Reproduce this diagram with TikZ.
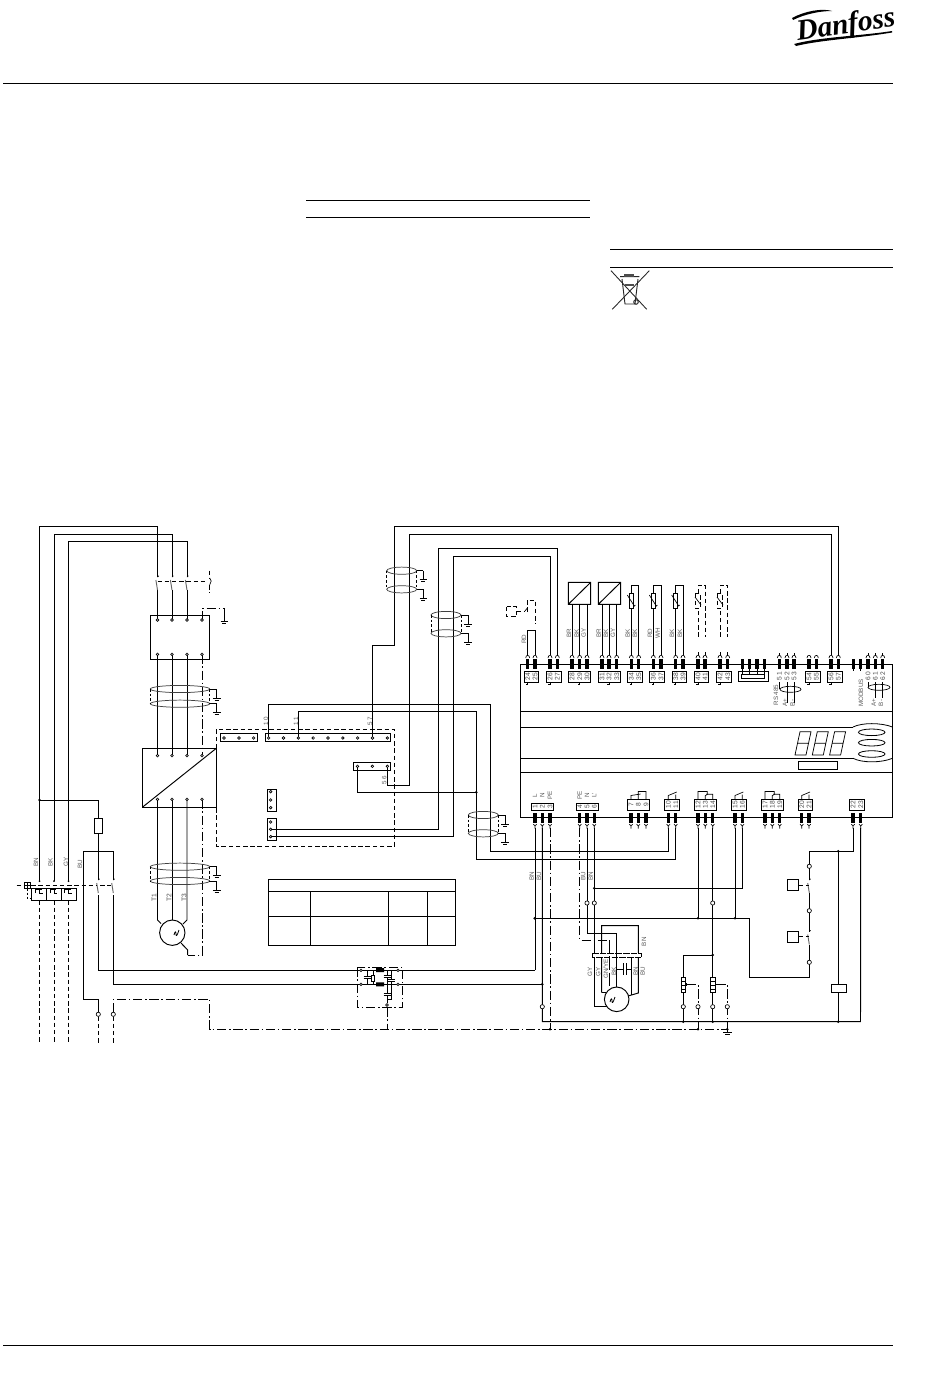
\documentclass[tikz,border=0pt]{standalone}
\usepackage{fontspec}
\setmainfont{Liberation Sans}
\newfontfamily\logofont{Liberation Serif}
\tikzset{
 x=.75pt,y=-.75pt,
 wire/.style={line width=.72pt,black,line join=miter},
 thinw/.style={line width=.5pt,black},
 dsh/.style={line width=.7pt,black,dash pattern=on 3.4pt off 2pt},
 dd/.style={line width=.7pt,black,dash pattern=on 7pt off 2pt on 1.2pt off 2pt},
 lab/.style={font=\fontsize{4.7}{5}\selectfont,text=black!65,inner sep=0pt,rotate=90},
 num/.style={font=\fontsize{5}{5}\selectfont,text=black!70,inner sep=0pt,rotate=90},
 blade/.style={line width=.7pt,black!60},
}
% upper controller terminal
\newcommand\tUp[2]{%
 \fill ({#1-1.7},658.8) rectangle ({#1+1.7},668.8);
 \draw[thinw] ({#1-2},658) .. controls ({#1-2},654.5) and ({#1+2},654.5) .. ({#1+2},658);
 \node[num] (un#2) at (#1,676.6) {#2};
 \coordinate (up#2) at (#1,655.4);
}
\newcommand\tBlob[1]{\fill ({#1-1.7},658.8) rectangle ({#1+1.7},668.8);}
\newcommand\tLo[3]{%
 \fill ({#1-1.7},813.3) rectangle ({#1+1.7},823.3);
 \draw[thinw] ({#1-1.7},824.2) -- (#1,826) -- ({#1+1.7},824.2) (#1,826) -- (#1,828.5);
 \node[num] (ln#2) at (#1,#3) {#2};
 \coordinate (lo#2) at (#1,828);
}
\newcommand\dotat[2]{\fill (#1,#2) circle (1.4);}
\newcommand\opn[2]{\draw[thinw,fill=white] (#1,#2) circle (2.1);}
\newcommand\term[2]{\draw[line width=.5pt,fill=white] (#1,#2) circle (1.3);}
\newcommand\gnd[2]{%
 \draw[wire] (#1,#2) -- (#1,{#2+9});
 \draw[wire] ({#1-3.8},{#2+9}) -- ({#1+3.8},{#2+9});
 \draw[thinw] ({#1-2},{#2+11}) -- ({#1+2},{#2+11});
}
% cable bundle: centre x, half width, y1, y2, ground x
\newcommand\bundle[5]{%
 \draw[line width=.55pt,black!75] (#1,#3) ellipse (#2 and 3.6) (#1,#4) ellipse (#2 and 3.6);
 \draw[line width=.55pt,dash pattern=on 2pt off 1.5pt] ({#1-#2},#3) -- ({#1-#2},#4) ({#1+#2},#3) -- ({#1+#2},#4);
 \draw[line width=.55pt] ({#1+#2},#3) -- (#5,#3);
 \draw[line width=.55pt] ({#1+#2},#4) -- (#5,#4);
 \gnd{#5}{#3}\gnd{#5}{#4}
}
% switch contact
\newcommand\sw[2]{%
 \draw[thinw] (#1,#2) -- ({#1+1.4},{#2-1.2});
 \draw[blade] ({#1-1.6},{#2+3}) -- (#1,{#2+13});
}
\newcommand\tick[1]{\draw[thinw] (#1,682.3) -- (#1,684.8) -- ({#1-1.6},684.8);}
\newcommand\thermo[2]{% x left wire, y-extra
 \draw[wire,fill=white] ({#1-2.2},593.3) rectangle ({#1+2.2},608.7);
 \draw[thinw] ({#1-4},595) -- ({#1+3},606) -- ({#1+4},605);
}
\newcommand\heater[1]{%
 \draw[line width=.6pt,fill=white] ({#1-2.3},977.3) rectangle ({#1+2.3},992.7);
 \draw[thinw] ({#1-2.3},981) -- ({#1+2.3},981) ({#1-2.3},985) -- ({#1+2.3},985) ({#1-2.3},989) -- ({#1+2.3},989);
 \fill ({#1+2.3},982.5) rectangle ({#1+3.5},986);
}
\newcommand\motorzig[2]{\draw[line width=.6pt] ({#1-2},{#2+1}) .. controls ({#1-1},{#2-3}) and (#1,{#2-3}) .. (#1,{#2}) .. controls (#1,{#2+3}) and ({#1+1},{#2+2}) .. ({#1+3},{#2-4});}
\newcommand\digitseg[1]{%
 \draw[line width=.55pt] ({#1},755) -- ({#1+11},755) -- ({#1+16},731.7) -- ({#1+5},731.7) -- cycle ({#1+2.5},743.3) -- ({#1+13.5},743.3);
}
\begin{document}
\begin{tikzpicture}
\useasboundingbox (0,0) rectangle (950,1378);

% page rules
\draw[line width=.6pt] (3,83) -- (893,83);
\draw[line width=.6pt] (3,1345) -- (893,1345);
\draw[line width=.7pt] (306,200) -- (590,200) (306,217) -- (590,217);
\draw[line width=.7pt] (610,249) -- (893,249) (610,267) -- (893,267);

% logo
\node[inner sep=0pt,rotate=8] (logo) at (846,26) {\logofont\fontsize{22}{22}\selectfont\bfseries\itshape Danfoss};
\fill (792,18) .. controls (805,11) and (822,8) .. (832,11) .. controls (820,11) and (805,14) .. (793,20) -- cycle;
\fill (794,44) .. controls (820,37) and (860,36) .. (892,31) -- (892,32.5) .. controls (860,38) and (820,40) .. (796,46) -- cycle;

% bin icon
\draw[line width=.65pt,black!85] (611,270.7) -- (646.7,309.3) (649.3,270.7) -- (612.3,309.3);
\draw[line width=.7pt,black!85] (620,276.7) -- (639.3,276.7) (622,279) -- (625,304) -- (635,304) -- (638,279);
\fill[black!70] (624,274) rectangle (634,276.5);
\fill[black!70] (625,284) rectangle (634,286);
\draw[line width=.7pt,black!85] (636,302) circle (2.3);

% main supply wires
\draw[wire] (39.5,881) -- (39.5,526.3) -- (157.5,526.3) -- (157.5,577);
\draw[wire] (54,881) -- (54,534) -- (172,534) -- (172,577);
\draw[wire] (68.5,881) -- (68.5,541.7) -- (187,541.7) -- (187,577);
\draw[wire] (157.5,590) -- (157.5,620) (172,590) -- (172,620) (187,590) -- (187,620);
\foreach \x in {157.5,172,187}{\sw{\x}{577}}
\draw[dsh] (157.5,581) -- (206,581);
\draw[dsh] (209.7,570.7) -- (209.7,578) (209.7,585) -- (209.7,592.7);
\draw[thinw] (209.7,578) -- (211.2,581) -- (209.7,585);

% EMC box
\draw[wire] (150.3,615.3) rectangle (209.7,659.3);
\draw[dd] (202,620) -- (202,608.3) -- (224.3,608.3) -- (224.3,612);
\gnd{224.3}{612}
\draw[wire] (157.5,654.3) -- (157.5,755.7) (172,654.3) -- (172,755.7) (187,654.3) -- (187,755.7);
\draw[dd] (202,654.3) -- (202,755.7);
\bundle{180}{29.7}{689}{703.7}{216.7}

% converter
\draw[wire] (142.3,748.3) rectangle (216.3,807.3);
\draw[wire] (142.3,807.3) -- (216.3,748.3);
\foreach \x in {157.5,172,187,202}{\term{\x}{620}\term{\x}{654.3}\term{\x}{755.7}}
\draw[wire] (157.5,799.3) -- (157.5,920) -- (161,923.5);
\draw[wire] (172,799.3) -- (172,920);
\draw[wire] (187,799.3) -- (187,920) -- (183,924);
\draw[dd] (202,799.3) -- (202,955) -- (187.7,955);
\draw[wire] (187.7,955) -- (187.7,950) -- (181,943);
\foreach \x in {157.5,172,187,202}{\term{\x}{799.3}}
\bundle{180}{29.7}{866.7}{881}{216.7}
\draw[wire] (172.3,932.7) circle (12.7);
\motorzig{176}{934}
\node[num] (t1) at (154,898) {T1};
\node[num] (t2) at (169,898) {T2};
\node[num] (t3) at (184,898) {T3};

% breaker branch and fuse
\dotat{39.5}{800}
\draw[wire] (39.5,800) -- (98.3,800) -- (98.3,818.3);
\draw[wire,fill=white] (94.7,818.3) rectangle (102.7,833.3);
\draw[wire] (98.3,833.3) -- (98.3,880) (98.3,895) -- (98.3,970.3) -- (535,970.3);
\draw[wire] (83.3,999.3) -- (83.3,851) -- (113.3,851) -- (113.3,880);
\draw[wire] (113.3,895) -- (113.3,984.3) -- (542.3,984.3);
\dotat{542.3}{984.3}
\sw{98.3}{880}\sw{113.3}{880}
\draw[wire] (83.3,999.3) -- (98.3,999.3) -- (98.3,1012);
\draw[dd] (113.3,1012) -- (113.3,999.3) -- (209.7,999.3) -- (209.7,1029.3) -- (727.3,1029.3);
\draw[dsh] (98.3,1016.5) -- (98.3,1044) (113.3,1016.5) -- (113.3,1044);
\opn{98.3}{1014.3}\opn{113.3}{1014.3}

% thermal breaker
\draw[wire] (31.7,888.3) rectangle (76.3,900.3) (46.3,888.3) -- (46.3,900.3) (61.7,888.3) -- (61.7,900.3);
\foreach \x in {39.5,54,68.5}{
 \fill (\x,881) circle (1);
 \draw[line width=.6pt] ({\x-4},893) -- ({\x-4},889.5) -- ({\x+2},889.5) (\x,889.5) -- (\x,893) -- ({\x+3},893);
 \draw[dsh] (\x,900.3) -- (\x,1044);
}
\draw[dsh] (16.7,885.3) -- (96,885.3) (100,885.3) -- (111,885.3);
\draw[line width=.6pt,fill=white] (24.7,882.3) rectangle (30,888.7);
\draw[line width=.5pt] (24.7,885.5) -- (30,885.5) (27.3,882.3) -- (27.3,888.7);
\draw[line width=.5pt,dash pattern=on 2pt off 1pt] (27.3,888.7) -- (27.3,898.3) -- (31.7,898.3);
\node[lab] (bn1) at (36,862) {BN};
\node[lab] (bk1) at (50.5,862) {BK};
\node[lab] (gy1) at (66,862) {GY};
\node[lab] (bu1) at (80,864) {BU};

% dashed control card
\draw[dsh] (216.3,748.3) -- (216.3,729.3) -- (394.3,729.3) -- (394.3,846.3) -- (216.3,846.3) -- (216.3,807.3);
\draw[wire] (220.3,733.7) rectangle (257.7,741.7);
\draw[wire] (265.3,733.7) rectangle (390.7,741.7);
\draw[wire] (353.3,762.3) rectangle (390.7,770.3);
\draw[wire] (267.3,789.3) rectangle (276.7,811.3);
\draw[wire] (267.3,818.3) rectangle (276.7,840.3);
\foreach \i/\x in {1/268.7,2/283.5,3/298.4,4/313.2,5/328,6/342.9,7/357.7,8/372.5,9/387.4}{\coordinate (sb\i) at (\x,738);}
\coordinate (sc1) at (357.5,766.3);\coordinate (sc3) at (387.4,766.3);
\coordinate (se2) at (270.7,829.3);\coordinate (se3) at (270.7,836.7);

\draw[wire] (sb1) -- (268.7,704.3) -- (490.3,704.3) -- (490.3,851.3) -- (668.3,851.3) -- (668.3,828);
\draw[wire] (sb3) -- (298.4,711.7) -- (476.3,711.7) -- (476.3,859.3) -- (675.7,859.3) -- (675.7,828);
\draw[wire] (sb8) -- (372.5,645.7) -- (394.3,645.7) -- (394.3,526.3) -- (838.3,526.3) -- (838.3,655.4);
\draw[wire] (sc3) -- (387.4,785.3) -- (409.3,785.3) -- (409.3,534.3) -- (831,534.3) -- (831,655.4);
\draw[wire] (sc1) -- (357.5,792.3) -- (476.3,792.3);
\dotat{476.3}{792.3}
\draw[wire] (se2) -- (438.7,829.3) -- (438.7,548.7) -- (557.3,548.7) -- (557.3,655.4);
\draw[wire] (se3) -- (453.3,836.7) -- (453.3,556) -- (550,556) -- (550,655.4);

\foreach \x in {224,239,253.7}{\term{\x}{738}}
\foreach \x in {268.7,283.5,298.4,313.2,328,342.9,357.7,372.5,387.4}{\term{\x}{738}}
\foreach \x in {357.5,372.4,387.4}{\term{\x}{766.3}}
\foreach \y in {791.7,800,807.7,822,829.3,836.7}{\term{270.7}{\y}}

\node[lab] (l10) at (266,721) {1 0};
\node[lab] (l11) at (296,721) {1 1};
\node[lab] (l57) at (370,721) {5 7};
\node[lab] (l56) at (384.3,780) {5 6};

\bundle{401.7}{15}{570.7}{589.3}{423.3}
\bundle{446}{15}{615}{633.3}{468}
\bundle{483.3}{15}{815}{833.3}{505}

% table
\draw[wire] (268.3,879.3) rectangle (455.3,945.3);
\draw[wire] (268.3,891.3) -- (455.3,891.3) (268.3,916.3) -- (455.3,916.3);
\draw[wire] (310.3,891.3) -- (310.3,945.3) (388.3,891.3) -- (388.3,945.3) (427.3,891.3) -- (427.3,945.3);

% filter
\draw[dd,line width=.6pt] (357.3,967.3) rectangle (402.7,1007.3);
\fill (376,968) rectangle (384,972) (376,982.3) rectangle (384,986.3);
\foreach \x/\y in {361/970.3,398/970.3,361/984.3,398/984.3,387/1005}{\term{\x}{\y}}
\draw[line width=.5pt] (367,970.3) -- (367,976.5) (367,978.5) -- (367,984.3) (363.5,976.5) -- (370.5,976.5) (363.5,978.5) -- (370.5,978.5);
\draw[line width=.5pt] (373,970.3) -- (373,984.3);
\draw[line width=.5pt,fill=white] (371.3,975) rectangle (374.7,981);
\draw[line width=.5pt] (387,970.3) -- (387,975) (387,977) -- (387,984.3) (383.5,975) -- (390.5,975) (383.5,977) -- (390.5,977);
\draw[line width=.5pt] (391.3,970.3) -- (391.3,979) (391.3,981) -- (391.3,999.3) -- (387,999.3) (388,979) -- (394.7,979) (388,981) -- (394.7,981);
\draw[line width=.5pt] (387,984.3) -- (387,993) (387,995) -- (387,1003) (383.5,993) -- (390.5,993) (383.5,995) -- (390.5,995);
\draw[dd] (387,1007.3) -- (387,1029.3);

% controller frame
\draw[wire] (520.7,664.3) rectangle (892.5,817);
\draw[wire] (520.7,711) -- (892.5,711) (520.7,758.3) -- (853,758.3) (520.7,772.3) -- (892.5,772.3) (520.7,727) -- (853,727);
\draw[line width=.6pt] (853,727) .. controls (862,722.5) and (881,722.5) .. (892.5,727);
\draw[line width=.6pt] (853,758.3) .. controls (862,763) and (881,763) .. (892.5,758.3);
\foreach \y in {732.3,742.7,754}{\draw[line width=.6pt] (871.7,\y) ellipse (13.3 and 3.3);}
\digitseg{795}\digitseg{812.3}\digitseg{829.6}
\draw[line width=.6pt] (798.3,761.7) rectangle (837.7,769.3);

% upper terminals
\foreach \n/\x in {24/527.7,25/535,26/550,27/557.3,28/572,29/579.7,30/587,31/602,32/609,33/616.7,34/631.3,35/638.7,36/653.3,37/661,38/675.7,39/683,40/698,41/705,42/720,43/727.7,54/809,55/816.3,56/831,57/838.3}{\tUp{\x}{\n}}
\foreach \x in {742.3,749.7,757,764.3,853.3,860.7}{\tBlob{\x}}
\foreach \n/\x/\t in {51/779.3/5 1,52/787/5 2,53/794/5 3,60/868/6 0,61/875.3/6 1,62/882.7/6 2}{
 \fill ({\x-1.7},658.8) rectangle ({\x+1.7},668.8);
 \draw[thinw] ({\x-2},658) .. controls ({\x-2},654.5) and ({\x+2},654.5) .. ({\x+2},658);
 \draw[thinw] (\x,655.4) -- (\x,653);
 \node[num] (un\n) at (\x,676) {\t};
}
\foreach \a/\b in {524/538.7,546.3/561,568.3/590.7,598.3/620.4,627.6/642.4,649.6/664.7,672/686.7,694.3/708.7,716.3/731.4,805.3/820,827.3/842}{
 \draw[line width=.6pt] (\a,671) rectangle (\b,682.3);
}
\foreach \x in {527.7,550,579.7,609,631.3,653.3,675.7,698,720,831,809}{\tick{\x}}
% 4 pin block
\draw[line width=.6pt] (738.3,671) rectangle (768.3,681.5);
\draw[line width=.6pt] (741.7,674.3) rectangle (764.7,678.3);
\foreach \x in {742.3,749.7,757,764.3}{\draw[thinw] (\x,668.8) -- (\x,674.3);}
\foreach \x in {853.3,860.7}{\draw[thinw] (\x,668) -- (\x,670.5);}

% upper field devices
\draw[wire] (527.7,655.4) -- (527.7,630.3) -- (535,630.3) -- (535,655.4);
\node[lab] (rd1) at (524,639) {RD};
\draw[dsh,line width=.6pt] (506.7,606.7) rectangle (516.7,616.7);
\draw[dsh,line width=.6pt] (516.7,611) -- (525,611);
\draw[dsh,line width=.6pt] (527.3,612) -- (527.3,600) -- (535.3,600) -- (535.3,623.3);
\draw[line width=.5pt] (525,611) -- (527.3,608);

\draw[wire] (568.3,582.3) rectangle (590.7,604.3) (568.3,604.3) -- (590.7,582.3);
\draw[wire] (598.3,582.3) rectangle (620.7,604.3) (598.3,604.3) -- (620.7,582.3);
\draw[wire] (572,604.3) -- (up28) (579.7,604.3) -- (up29) (587,604.3) -- (up30);
\draw[wire] (602,604.3) -- (up31) (609,604.3) -- (up32) (616.7,604.3) -- (up33);
\foreach \a/\b/\n/\m in {631.3/638.7/34/35,653.3/661/36/37,675.7/683/38/39}{
 \draw[wire] (up\n) -- (\a,585.3) -- (\b,585.3) -- (up\m);
 \thermo{\a}{0}
}
\foreach \a/\b in {698/705,720/727.7}{
 \draw[dsh] (\a,636.7) -- (\a,585.3) -- (\b,585.3) -- (\b,636.7);
 \draw[dsh,line width=.5pt,fill=white] ({\a-2.2},593.3) rectangle ({\a+2.2},608.7);
 \draw[thinw] ({\a-3},597) -- ({\a+3},605);
}
\foreach \x in {698,705,720,727.7}{\draw[thinw] (\x,655.4) -- (\x,651.5);}
\foreach \x/\t/\y in {569/BR/633,576.7/BK/633,583.7/GY/633,598.7/BR/633,606/BK/633,613/GY/633,627.7/BK/633,635/BK/633,650/RD/633,657.7/WH/633,672/BK/633,680/BK/633}{\node[lab] at (\x,\y) {\t};}

% RS485 / Modbus
\draw[line width=.5pt] (790.5,689.3) ellipse (10.5 and 3);
\draw[thinw] (779.3,682) -- (779.3,689.3) (787,682) -- (787,703) (794,682) -- (794,703);
\node[lab] (rs) at (776,695) {RS 485};
\node[lab] (ap1) at (785,703) {A+};
\node[lab] (bm1) at (792.5,703) {B-};
\draw[line width=.5pt] (879,687.3) ellipse (11 and 3);
\draw[thinw] (868,682) -- (868,687.3) (875.3,682) -- (875.3,698) (882.7,682) -- (882.7,698);
\node[lab] (mb) at (861,693) {MODBUS};
\node[lab] (ap2) at (873.7,703) {A+};
\node[lab] (bm2) at (881,703) {B-};

% lower terminals
\foreach \n/\x in {1/535,2/542.3,3/550,4/579.7,5/587,6/594.3}{\tLo{\x}{\n}{807}}
\foreach \n/\x in {7/631,8/638.3,9/646,10/668.3,11/675.7,12/698,13/705.3,14/712.7,15/735,16/742.3,17/765,18/772.3,19/779.7,20/801.7,21/809,22/853,23/860.7}{\tLo{\x}{\n}{804.7}}
\foreach \a/\b/\y in {531.3/553.7/803.3,576/598/803.3,627.3/649.7/799.3,664.6/679.4/799.3,694.3/716.4/799.3,731.3/746/799.3,761.3/783.4/799.3,798/812.7/799.3,849.3/864.4/799.3}{
 \draw[line width=.6pt] (\a,\y) rectangle (\b,810.7);
}
\foreach \x/\t in {535/L,542.3/N,550/PE,579.7/PE,587/N,594.3/L'}{\node[lab] at (\x,795.5) {\t};}
% contact marks
\draw[thinw] (638.3,799.3) -- (638.3,791.5) -- (646,791.5) -- (646,799.3) (631,799.3) -- (631,795.5) -- (640.5,794);
\foreach \a/\b in {668.3/675.7,735/742.3,801.7/809}{\draw[thinw] (\a,799.3) -- (\a,795.5) -- ({\b+1},792) (\b,799.3) -- (\b,794.5);}
\foreach \a/\b/\c in {698/705.3/712.7,765/772.3/779.7}{\draw[thinw] (\a,799.3) -- (\a,791.5) -- ({\b+2},791.5) -- ({\b+2},794.5) (\c,799.3) -- (\c,794.3) -- ({\b+1},794.3) (\b,799.3) -- (\b,795.5) -- ({\b+3},794);}

% lower wiring
\draw[wire] (535,828) -- (535,970.3);
\dotat{534.7}{918.3}
\draw[wire] (lo2) -- (542.3,1021.7) -- (860.5,1021.7) -- (lo23);
\opn{542.3}{1006.7}
\draw[dd] (lo3) -- (550,1029.3);
\dotat{550}{1029.3}
\draw[dd] (lo4) -- (579.7,940) -- (609.3,940) -- (609.3,986);
\draw[wire] (lo5) -- (587,933.3) -- (616.7,933.3) -- (616.7,987);
\opn{587}{903}
\draw[wire] (lo6) -- (594.3,1006.7) -- (607,1006.7);
\opn{594.3}{903}
\dotat{594.3}{888.3}
\draw[wire] (594.3,888.3) -- (742.3,888.3) -- (lo16);
\draw[wire] (lo12) -- (698,918.3);
\draw[wire] (lo15) -- (735,918.3);
\draw[wire] (534.7,918.3) -- (749.3,918.3) -- (749.3,977.3) -- (809.3,977.3) -- (809.3,964);
\dotat{698}{918.3}\dotat{735}{918.3}
\draw[wire] (lo14) -- (712.7,1021.7);
\opn{712.7}{903}
\dotat{712.7}{955}
\draw[wire] (712.7,955) -- (683.3,955) -- (683.3,1021.7);
\dotat{683.3}{1021.7}\dotat{712.7}{1021.7}
\heater{683.3}\heater{712.7}
\opn{683.3}{1006.7}\opn{712.7}{1006.7}
\draw[dd,line width=.6pt] (686.8,984.3) -- (698,984.3) -- (698,1029.3);
\draw[dd,line width=.6pt] (716.2,984.3) -- (727.3,984.3) -- (727.3,1029.3);
\opn{698}{1006.7}\opn{727.3}{1006.7}
\dotat{698}{1029.3}\dotat{727.3}{1029.3}
\draw[wire] (727.3,1029.3) -- (727.3,1032);
\draw[wire] (723,1032) -- (731.6,1032);
\draw[thinw] (725,1034.5) -- (729.6,1034.5);

% pump motor
\draw[wire] (601.7,992.7) -- (601.7,925.7) -- (638.3,925.7) -- (638.3,993) -- (628,996);
\draw[wire] (601.7,992.7) -- (606,992.7);
\draw[line width=.6pt,fill=white,dash pattern=on 5pt off .8pt] (592.3,953.3) rectangle (641.7,957.3);
\draw[wire] (616.7,933.3) -- (616.7,987);
\draw[dd] (609.3,940) -- (609.3,986);
\draw[wire] (631.7,957.3) -- (631.7,995);
\draw[wire] (616.7,969) -- (623.3,969) (626.3,969) -- (631.7,969);
\draw[wire] (623.3,963) -- (623.3,975) (626.3,963) -- (626.3,975);
\draw[wire,fill=white] (616.7,999.3) circle (12.3);
\motorzig{612}{1001}
\node[lab] (g1) at (590,971.5) {GY};
\node[lab] (g2) at (598.3,971.5) {GY};
\node[lab] (g3) at (606,969) {GN/YE};
\node[lab] (g4) at (614,971.5) {BK};
\node[lab] (g5) at (635.7,971.5) {BN};
\node[lab] (g6) at (642.7,971.5) {BU};
\node[lab] (g7) at (644,941.7) {BN};
\node[lab] (g8) at (583.3,876) {BU};
\node[lab] (g9) at (590.7,876) {BN};
\node[lab] (g10) at (531.7,876) {BN};
\node[lab] (g11) at (539,876) {BU};

% safety chain
\draw[wire] (lo22) -- (853,851.3) -- (809.3,851.3) -- (809.3,864);
\opn{809.3}{866.3}
\draw[wire] (809.3,868) -- (809.3,880) (809.3,893) -- (809.3,908.5);
\opn{809.3}{910.7}
\draw[wire] (809.3,913) -- (809.3,931.5) (809.3,945) -- (809.3,960);
\opn{809.3}{962.3}
\sw{809.3}{880}\sw{809.3}{931.5}
\draw[wire] (787.3,879.3) rectangle (798.7,890.7);
\draw[wire] (787.3,931) rectangle (798.7,942.3);
\draw[dsh,line width=.6pt] (798.7,885.3) -- (809,885.3) (798.7,936.7) -- (809,936.7);
\dotat{838.3}{851.3}
\draw[wire] (838.3,851.3) -- (838.3,984.3) (838.3,992.7) -- (838.3,1021.7);
\draw[wire,fill=white] (831.3,984.3) rectangle (846.7,992.7);
\dotat{838.3}{1021.7}
\end{tikzpicture}
\end{document}
